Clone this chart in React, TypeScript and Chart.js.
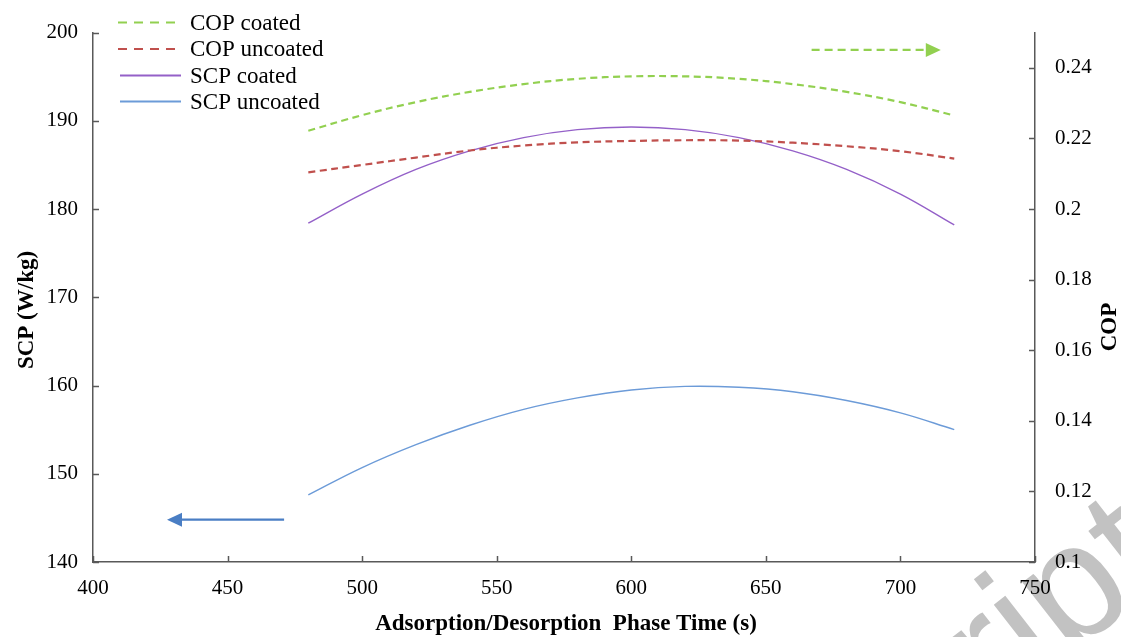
import React, { useEffect, useRef } from "react";
import { Chart, registerables } from "chart.js";

Chart.register(...registerables);

// ---- data ----
const phaseTimes = [480, 500, 520, 540, 560, 580, 600, 620, 640, 660, 680, 700, 720];
const copCoated = [0.2222, 0.2266, 0.2303, 0.2332, 0.2354, 0.2369, 0.2376, 0.2376, 0.2369, 0.2354, 0.2332, 0.2303, 0.2265];
const copUncoated = [0.2104, 0.2125, 0.2146, 0.2166, 0.218, 0.2189, 0.2193, 0.2195, 0.2194, 0.2188, 0.2178, 0.2164, 0.2143];
const scpCoated = [178.4, 181.7, 184.5, 186.6, 188.1, 189.0, 189.3, 189.0, 188.1, 186.6, 184.5, 181.7, 178.2];
const scpUncoated = [147.6, 150.7, 153.3, 155.5, 157.3, 158.6, 159.5, 159.9, 159.8, 159.3, 158.3, 156.9, 155.0];

const seriesLabels = ["COP coated", "COP uncoated", "SCP coated", "SCP uncoated"];

// arrows pointing to the axis each group belongs to
const scpArrowX = [471, 427.5];
const scpArrowY = 144.8;
const copArrowX = [667, 715];
const copArrowY = 0.2451;

const xTitle = "Adsorption/Desorption  Phase Time (s)";
const yTitle = "SCP (W/kg)";
const y1Title = "COP";
const watermark = "Manuscript";

const SERIF = '"Liberation Serif", "Times New Roman", serif';
const AXIS = "#595959";

const pts = (ys: number[]) => phaseTimes.map((x, i) => ({ x, y: ys[i] }));

const overlay = {
  id: "overlay",
  beforeDraw(chart: any) {
    const ctx = chart.ctx;
    ctx.save();
    ctx.translate(1176, 573);
    ctx.rotate((-38 * Math.PI) / 180);
    ctx.font = '165px "Liberation Sans", Arial, sans-serif';
    ctx.fillStyle = "#c2c2c2";
    ctx.textAlign = "right";
    ctx.textBaseline = "alphabetic";
    ctx.fillText(watermark, 0, 0);
    ctx.restore();
  },
  afterDraw(chart: any) {
    const ctx = chart.ctx;
    const { left, right, bottom } = chart.chartArea;
    const sx = chart.scales.x;
    const sy = chart.scales.y;
    const sy1 = chart.scales.y1;
    ctx.save();
    // inward tick marks
    ctx.strokeStyle = AXIS;
    ctx.lineWidth = 1.5;
    ctx.beginPath();
    sy.ticks.forEach((t: any) => {
      const p = Math.round(sy.getPixelForValue(t.value)) + 0.5;
      ctx.moveTo(left, p);
      ctx.lineTo(left + 6, p);
    });
    sy1.ticks.forEach((t: any) => {
      const p = Math.round(sy1.getPixelForValue(t.value)) + 0.5;
      ctx.moveTo(right, p);
      ctx.lineTo(right - 6, p);
    });
    sx.ticks.forEach((t: any) => {
      const p = Math.round(sx.getPixelForValue(t.value)) + 0.5;
      ctx.moveTo(p, bottom);
      ctx.lineTo(p, bottom - 6);
    });
    ctx.stroke();

    // arrows
    const arrow = (x0: number, x1: number, y: number, color: string, dash: number[]) => {
      const dir = Math.sign(x1 - x0);
      const head = 15;
      ctx.strokeStyle = color;
      ctx.fillStyle = color;
      ctx.lineWidth = 2.2;
      ctx.setLineDash(dash);
      ctx.beginPath();
      ctx.moveTo(x0, y);
      ctx.lineTo(x1 - dir * head, y);
      ctx.stroke();
      ctx.setLineDash([]);
      ctx.beginPath();
      ctx.moveTo(x1, y);
      ctx.lineTo(x1 - dir * head, y - 7);
      ctx.lineTo(x1 - dir * head, y + 7);
      ctx.closePath();
      ctx.fill();
    };
    arrow(sx.getPixelForValue(scpArrowX[0]), sx.getPixelForValue(scpArrowX[1]), sy.getPixelForValue(scpArrowY), "#4a7ec4", []);
    arrow(sx.getPixelForValue(copArrowX[0]), sx.getPixelForValue(copArrowX[1]), sy1.getPixelForValue(copArrowY), "#92d050", [8, 5]);

    // legend
    const legendY = [22.5, 49, 75.5, 101.5];
    chart.data.datasets.forEach((ds: any, i: number) => {
      const y = legendY[i];
      ctx.strokeStyle = ds.borderColor;
      ctx.lineWidth = ds.borderDash ? 2.2 : 2;
      ctx.setLineDash(ds.borderDash ? [9, 7] : []);
      ctx.beginPath();
      ctx.moveTo(ds.borderDash ? 118 : 120, y);
      ctx.lineTo(ds.borderDash ? 176 : 181, y);
      ctx.stroke();
      ctx.setLineDash([]);
      ctx.fillStyle = "#000";
      ctx.font = `23px ${SERIF}`;
      ctx.textAlign = "left";
      ctx.textBaseline = "middle";
      ctx.fillText(ds.label, 190, y + 1);
    });

    // axis titles
    ctx.fillStyle = "#000";
    ctx.font = `bold 23px ${SERIF}`;
    ctx.textAlign = "center";
    ctx.textBaseline = "alphabetic";
    ctx.fillText(xTitle, 566, 630);
    ctx.save();
    ctx.translate(33, 310);
    ctx.rotate(-Math.PI / 2);
    ctx.fillText(yTitle, 0, 0);
    ctx.restore();
    ctx.save();
    ctx.translate(1116, 327);
    ctx.rotate(-Math.PI / 2);
    ctx.fillText(y1Title, 0, 0);
    ctx.restore();
    ctx.restore();
  },
};

export default function App() {
  const ref = useRef<HTMLCanvasElement | null>(null);
  useEffect(() => {
    if (!ref.current) return;
    const tickFont = { family: SERIF, size: 21 };
    const grid = { display: false, drawTicks: false };
    const chart = new Chart(ref.current, {
      type: "line",
      data: {
        datasets: [
          { label: seriesLabels[0], data: pts(copCoated), yAxisID: "y1", borderColor: "#92d050", borderWidth: 2.2, borderDash: [7, 4.5], pointRadius: 0, tension: 0.4, fill: false },
          { label: seriesLabels[1], data: pts(copUncoated), yAxisID: "y1", borderColor: "#c0504d", borderWidth: 2.2, borderDash: [7, 4.5], pointRadius: 0, tension: 0.4, fill: false },
          { label: seriesLabels[2], data: pts(scpCoated), yAxisID: "y", borderColor: "#9460c8", borderWidth: 1.4, pointRadius: 0, tension: 0.4, fill: false },
          { label: seriesLabels[3], data: pts(scpUncoated), yAxisID: "y", borderColor: "#6c9bd8", borderWidth: 1.4, pointRadius: 0, tension: 0.4, fill: false },
        ],
      },
      options: {
        animation: false,
        responsive: false,
        parsing: false as any,
        layout: { padding: { top: 31, left: 0, right: 0, bottom: 0 } },
        plugins: { legend: { display: false }, tooltip: { enabled: false } },
        scales: {
          x: {
            type: "linear",
            min: 400,
            max: 750,
            ticks: { stepSize: 50, font: tickFont, color: "#000", padding: 14, maxRotation: 0 },
            grid,
            border: { display: true, color: AXIS, width: 1.5 },
            afterFit: (s: any) => { s.height = 75; },
          },
          y: {
            type: "linear",
            position: "left",
            min: 140,
            max: 200,
            ticks: { stepSize: 10, font: tickFont, color: "#000", padding: 15 },
            grid,
            border: { display: true, color: AXIS, width: 1.5 },
            afterFit: (s: any) => { s.width = 93; },
          },
          y1: {
            type: "linear",
            position: "right",
            min: 0.1,
            max: 0.25,
            ticks: {
              stepSize: 0.02,
              includeBounds: false,
              font: tickFont,
              color: "#000",
              padding: 20,
              callback: (v: any) => String(Number(Number(v).toFixed(2))),
            },
            grid,
            border: { display: true, color: AXIS, width: 1.5 },
            afterFit: (s: any) => { s.width = 86; },
          },
        },
      },
      plugins: [overlay],
    });
    return () => chart.destroy();
  }, []);
  return (
    <div style={{ position: "fixed", left: 0, top: 0, width: 1121, height: 637, background: "#fff" }}>
      <canvas ref={ref} width={1121} height={637} style={{ display: "block" }} />
    </div>
  );
}
